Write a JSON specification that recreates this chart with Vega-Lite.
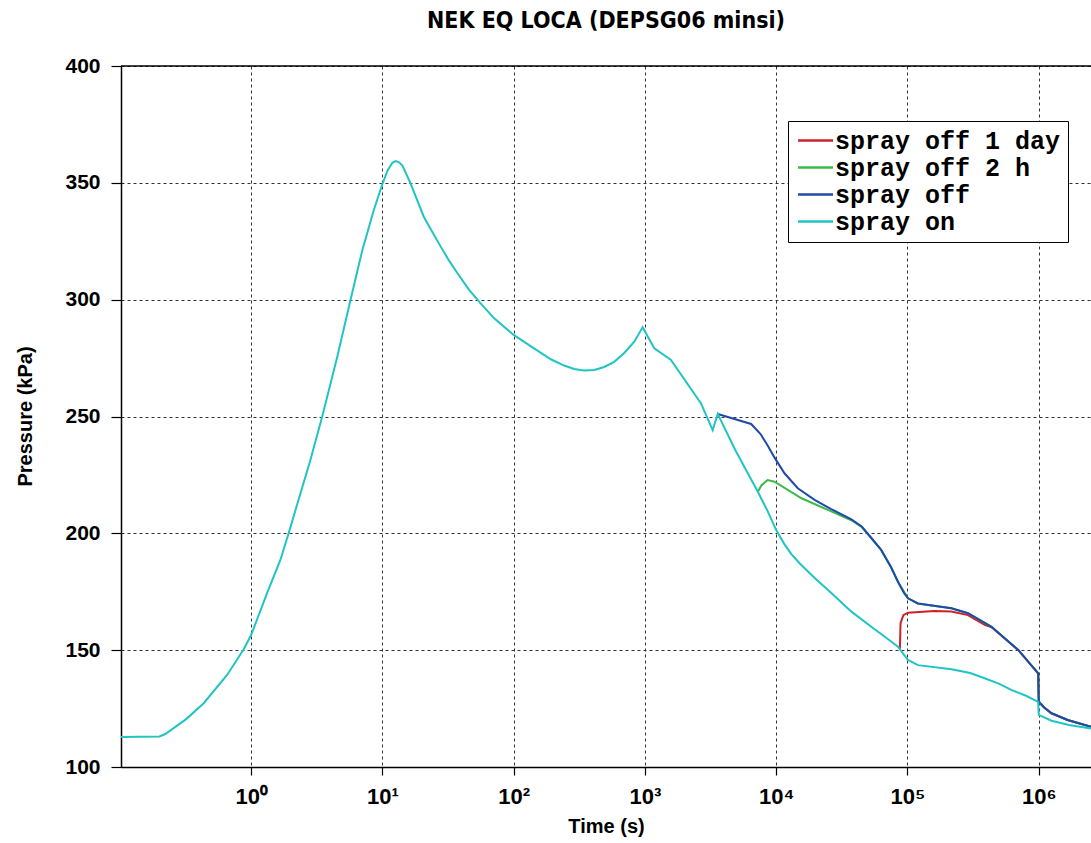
{
  "$schema": "https://vega.github.io/schema/vega-lite/v6.json",
  "width": 970,
  "height": 701,
  "autosize": "none",
  "padding": {"left": 121, "top": 66, "right": 0, "bottom": 76},
  "background": "white",
  "config": {"view": {"stroke": null}},
  "title": {"text": "NEK EQ LOCA (DEPSG06 minsi)", "font": "DejaVu Sans Condensed", "fontSize": 23, "fontWeight": "bold", "color": "black", "offset": 22, "anchor": "middle"},
  "layer": [
    {
      "data": {"values": [{"k": 1}]},
      "mark": {"type": "rule", "color": "black", "strokeWidth": 1.5},
      "encoding": {"y": {"datum": 400, "type": "quantitative"}}
    },
    {
      "data": {"values": [
        {"s": "spray off 1 day", "t": 87500, "p": 150.4},
        {"s": "spray off 1 day", "t": 88500, "p": 161.5},
        {"s": "spray off 1 day", "t": 93000, "p": 165},
        {"s": "spray off 1 day", "t": 100900, "p": 166},
        {"s": "spray off 1 day", "t": 160000, "p": 166.8},
        {"s": "spray off 1 day", "t": 216000, "p": 166.5},
        {"s": "spray off 1 day", "t": 289000, "p": 165},
        {"s": "spray off 1 day", "t": 387000, "p": 160.8},
        {"s": "spray off 1 day", "t": 437000, "p": 159.8},
        {"s": "spray off 1 day", "t": 700000, "p": 150},
        {"s": "spray off 1 day", "t": 990000, "p": 140.1},
        {"s": "spray off 1 day", "t": 1000000, "p": 127.9},
        {"s": "spray off 1 day", "t": 1100000, "p": 125.5},
        {"s": "spray off 1 day", "t": 1250000, "p": 123},
        {"s": "spray off 1 day", "t": 1660000, "p": 120.1},
        {"s": "spray off 1 day", "t": 2500000, "p": 117.2},
        {"s": "spray off 2 h", "t": 7250, "p": 217.8},
        {"s": "spray off 2 h", "t": 7700, "p": 220.5},
        {"s": "spray off 2 h", "t": 8600, "p": 222.8},
        {"s": "spray off 2 h", "t": 9700, "p": 222.1},
        {"s": "spray off 2 h", "t": 15600, "p": 215},
        {"s": "spray off 2 h", "t": 26000, "p": 209.5},
        {"s": "spray off 2 h", "t": 37400, "p": 205.6},
        {"s": "spray off 2 h", "t": 45000, "p": 202.6},
        {"s": "spray off 2 h", "t": 53000, "p": 198},
        {"s": "spray off 2 h", "t": 63000, "p": 192.9},
        {"s": "spray off 2 h", "t": 75000, "p": 185.5},
        {"s": "spray off 2 h", "t": 84600, "p": 179.3},
        {"s": "spray off 2 h", "t": 100900, "p": 172.2},
        {"s": "spray off 2 h", "t": 120000, "p": 170},
        {"s": "spray off 2 h", "t": 216000, "p": 167.9},
        {"s": "spray off 2 h", "t": 289000, "p": 165.8},
        {"s": "spray off 2 h", "t": 437000, "p": 160},
        {"s": "spray off 2 h", "t": 700000, "p": 150},
        {"s": "spray off 2 h", "t": 990000, "p": 140.1},
        {"s": "spray off 2 h", "t": 1000000, "p": 127.9},
        {"s": "spray off 2 h", "t": 1100000, "p": 125.5},
        {"s": "spray off 2 h", "t": 1250000, "p": 123},
        {"s": "spray off 2 h", "t": 1660000, "p": 120.1},
        {"s": "spray off 2 h", "t": 2500000, "p": 117.2},
        {"s": "spray off", "t": 3585, "p": 251.1},
        {"s": "spray off", "t": 6440, "p": 246.8},
        {"s": "spray off", "t": 7600, "p": 242.5},
        {"s": "spray off", "t": 8630, "p": 237.5},
        {"s": "spray off", "t": 9690, "p": 232.5},
        {"s": "spray off", "t": 11560, "p": 225.7},
        {"s": "spray off", "t": 14600, "p": 219.3},
        {"s": "spray off", "t": 19600, "p": 214.3},
        {"s": "spray off", "t": 26000, "p": 210.5},
        {"s": "spray off", "t": 37400, "p": 206},
        {"s": "spray off", "t": 45000, "p": 202.8},
        {"s": "spray off", "t": 53000, "p": 198},
        {"s": "spray off", "t": 63000, "p": 192.9},
        {"s": "spray off", "t": 75000, "p": 185.5},
        {"s": "spray off", "t": 84600, "p": 179.3},
        {"s": "spray off", "t": 94000, "p": 174.5},
        {"s": "spray off", "t": 100900, "p": 172.2},
        {"s": "spray off", "t": 120000, "p": 170},
        {"s": "spray off", "t": 216000, "p": 167.9},
        {"s": "spray off", "t": 289000, "p": 165.8},
        {"s": "spray off", "t": 437000, "p": 160},
        {"s": "spray off", "t": 700000, "p": 150},
        {"s": "spray off", "t": 990000, "p": 140.1},
        {"s": "spray off", "t": 1000000, "p": 127.9},
        {"s": "spray off", "t": 1100000, "p": 125.5},
        {"s": "spray off", "t": 1250000, "p": 123},
        {"s": "spray off", "t": 1660000, "p": 120.1},
        {"s": "spray off", "t": 2500000, "p": 117.2},
        {"s": "spray on", "t": 0.102, "p": 112.8},
        {"s": "spray on", "t": 0.2, "p": 113.1},
        {"s": "spray on", "t": 0.222, "p": 114.1},
        {"s": "spray on", "t": 0.32, "p": 120.5},
        {"s": "spray on", "t": 0.435, "p": 127.3},
        {"s": "spray on", "t": 0.656, "p": 139.4},
        {"s": "spray on", "t": 0.88, "p": 150.5},
        {"s": "spray on", "t": 1.0, "p": 156.5},
        {"s": "spray on", "t": 1.32, "p": 174.3},
        {"s": "spray on", "t": 1.67, "p": 188.6},
        {"s": "spray on", "t": 1.93, "p": 200},
        {"s": "spray on", "t": 2.38, "p": 217.3},
        {"s": "spray on", "t": 2.8, "p": 230.5},
        {"s": "spray on", "t": 3.48, "p": 250},
        {"s": "spray on", "t": 4.53, "p": 275.6},
        {"s": "spray on", "t": 5.72, "p": 300},
        {"s": "spray on", "t": 7.03, "p": 321.2},
        {"s": "spray on", "t": 8.6, "p": 338.4},
        {"s": "spray on", "t": 10, "p": 349.5},
        {"s": "spray on", "t": 11.0, "p": 355.5},
        {"s": "spray on", "t": 11.9, "p": 358.6},
        {"s": "spray on", "t": 12.6, "p": 359.3},
        {"s": "spray on", "t": 13.4, "p": 358.8},
        {"s": "spray on", "t": 14.2, "p": 357.4},
        {"s": "spray on", "t": 16.4, "p": 349.8},
        {"s": "spray on", "t": 18.4, "p": 342.6},
        {"s": "spray on", "t": 20.7, "p": 335.4},
        {"s": "spray on", "t": 24, "p": 329},
        {"s": "spray on", "t": 27.8, "p": 322.7},
        {"s": "spray on", "t": 32.2, "p": 316.7},
        {"s": "spray on", "t": 37.3, "p": 311.3},
        {"s": "spray on", "t": 45.6, "p": 304.3},
        {"s": "spray on", "t": 56, "p": 298.4},
        {"s": "spray on", "t": 71, "p": 292},
        {"s": "spray on", "t": 100, "p": 284.9},
        {"s": "spray on", "t": 140, "p": 279.5},
        {"s": "spray on", "t": 192, "p": 274.5},
        {"s": "spray on", "t": 242, "p": 271.8},
        {"s": "spray on", "t": 289, "p": 270.3},
        {"s": "spray on", "t": 344, "p": 269.7},
        {"s": "spray on", "t": 410, "p": 269.9},
        {"s": "spray on", "t": 490, "p": 271.2},
        {"s": "spray on", "t": 583, "p": 273.4},
        {"s": "spray on", "t": 695, "p": 277.2},
        {"s": "spray on", "t": 829, "p": 282},
        {"s": "spray on", "t": 960, "p": 288.2},
        {"s": "spray on", "t": 1178, "p": 279.2},
        {"s": "spray on", "t": 1578, "p": 274.2},
        {"s": "spray on", "t": 2674, "p": 255.6},
        {"s": "spray on", "t": 3280, "p": 244.2},
        {"s": "spray on", "t": 3585, "p": 251.1},
        {"s": "spray on", "t": 4800, "p": 236.4},
        {"s": "spray on", "t": 6070, "p": 225.7},
        {"s": "spray on", "t": 7250, "p": 217.8},
        {"s": "spray on", "t": 8600, "p": 209.5},
        {"s": "spray on", "t": 10000, "p": 201.4},
        {"s": "spray on", "t": 11500, "p": 195.5},
        {"s": "spray on", "t": 13000, "p": 191.2},
        {"s": "spray on", "t": 15000, "p": 187.3},
        {"s": "spray on", "t": 17000, "p": 184.3},
        {"s": "spray on", "t": 20000, "p": 180.5},
        {"s": "spray on", "t": 26300, "p": 174.5},
        {"s": "spray on", "t": 32000, "p": 170},
        {"s": "spray on", "t": 37400, "p": 166.5},
        {"s": "spray on", "t": 53000, "p": 160},
        {"s": "spray on", "t": 70000, "p": 155},
        {"s": "spray on", "t": 84600, "p": 151.5},
        {"s": "spray on", "t": 100900, "p": 145.8},
        {"s": "spray on", "t": 120000, "p": 143.6},
        {"s": "spray on", "t": 216000, "p": 141.8},
        {"s": "spray on", "t": 300000, "p": 140.2},
        {"s": "spray on", "t": 387000, "p": 138},
        {"s": "spray on", "t": 500000, "p": 135.6},
        {"s": "spray on", "t": 617000, "p": 133},
        {"s": "spray on", "t": 800000, "p": 130.5},
        {"s": "spray on", "t": 989000, "p": 127.9},
        {"s": "spray on", "t": 1000000, "p": 122.3},
        {"s": "spray on", "t": 1250000, "p": 119.8},
        {"s": "spray on", "t": 1700000, "p": 118},
        {"s": "spray on", "t": 2500000, "p": 116.5}
      ]},
      "mark": {"type": "line", "strokeWidth": 2, "clip": true},
      "encoding": {
        "x": {
          "field": "t", "type": "quantitative",
          "scale": {"type": "log", "domain": [0.102, 2500000]},
          "axis": {
            "values": [1, 10, 100, 1000, 10000, 100000, 1000000],
            "labelExpr": "'10' + ['⁰','¹','²','³','⁴','⁵','⁶'][round(log(datum.value)/LN10)]",
            "grid": true, "gridDash": [3, 3], "gridColor": "#333333", "gridWidth": 1,
            "domainColor": "black", "domainWidth": 1.5,
            "tickColor": "black", "tickSize": 8, "tickWidth": 1.2,
            "labelFont": "Liberation Sans", "labelFontSize": 22, "labelFontWeight": "bold", "labelColor": "black", "labelPadding": 11, "labelFlush": false,
            "title": "Time (s)", "titleFont": "Liberation Sans", "titleFontSize": 20, "titleFontWeight": "bold", "titleColor": "black",
            "titleY": 65, "titleBaseline": "alphabetic"
          }
        },
        "y": {
          "field": "p", "type": "quantitative",
          "scale": {"domain": [100, 400], "nice": false, "zero": false},
          "axis": {
            "values": [100, 150, 200, 250, 300, 350, 400],
            "grid": true, "gridDash": [3, 3], "gridColor": "#333333", "gridWidth": 1,
            "domainColor": "black", "domainWidth": 1.5,
            "tickColor": "black", "tickSize": 10, "tickWidth": 1.2,
            "labelFont": "Liberation Sans", "labelFontSize": 21, "labelFontWeight": "bold", "labelColor": "black", "labelPadding": 11,
            "title": "Pressure (kPa)", "titleFont": "Liberation Sans", "titleFontSize": 20, "titleFontWeight": "bold", "titleColor": "black",
            "titleX": -86, "titleY": 350, "titleAlign": "center", "titleBaseline": "bottom", "titleAngle": -90
          }
        },
        "color": {
          "field": "s", "type": "nominal",
          "scale": {"domain": ["spray off 1 day", "spray off 2 h", "spray off", "spray on"], "range": ["#d0202a", "#3cb94a", "#1f4aa8", "#20c4c4"]},
          "legend": {
            "title": null, "orient": "none", "legendX": 667, "legendY": 55,
            "padding": 7, "strokeColor": "black", "fillColor": "white",
            "symbolType": "M-1.75,0H1.75", "symbolSize": 400, "symbolStrokeWidth": 2.5, "symbolOffset": 8,
            "labelFont": "Liberation Mono", "labelFontWeight": "bold", "labelFontSize": 25, "labelColor": "black",
            "labelOffset": 7, "labelLimit": 500, "rowPadding": 1
          }
        }
      }
    }
  ]
}
